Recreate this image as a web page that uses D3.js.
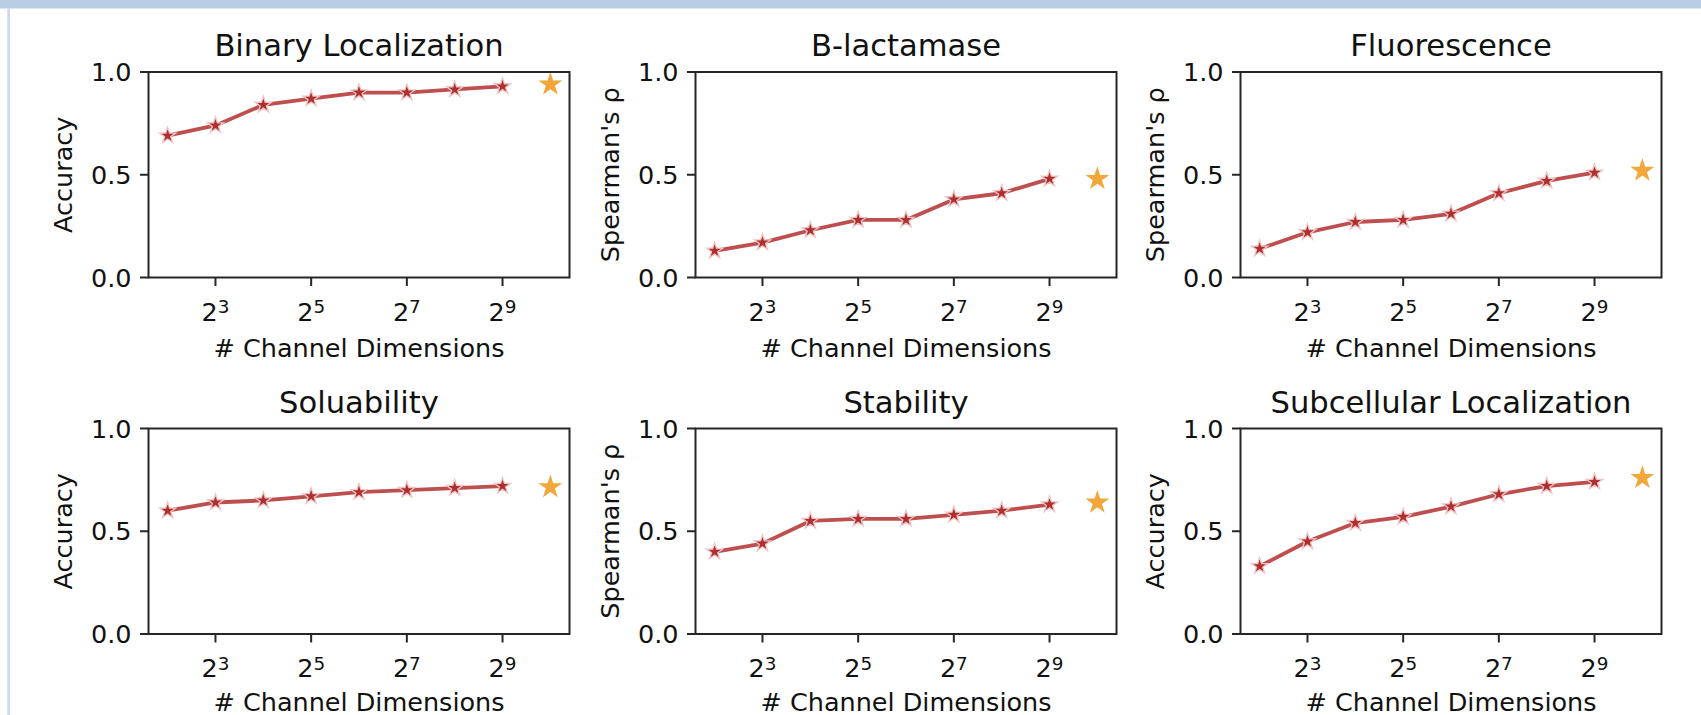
<!DOCTYPE html>
<html>
<head>
<meta charset="utf-8">
<script src="https://cdn.jsdelivr.net/npm/d3@7"></script>
<style>
  html, body { margin: 0; padding: 0; background: #fff; }
  svg { display: block; }
  text { font-family: "DejaVu Sans", sans-serif; fill: #111; }
</style>
</head>
<body>
<svg id="chart" width="1701" height="715"></svg>
<script>
// ---------- data ----------
const dims = [4, 8, 16, 32, 64, 128, 256, 512];
const refDim = 1024;
const tickDims = [8, 32, 128, 512];
const titles = ["Binary Localization", "B-lactamase", "Fluorescence",
                "Soluability", "Stability", "Subcellular Localization"];
const yLabels = ["Accuracy", "Spearman's \u03c1", "Spearman's \u03c1",
                 "Accuracy", "Spearman's \u03c1", "Accuracy"];
const binaryLoc   = [0.69, 0.74, 0.84, 0.87, 0.90, 0.90, 0.915, 0.93];
const bLactamase  = [0.13, 0.17, 0.23, 0.28, 0.28, 0.38, 0.41, 0.48];
const fluorescence= [0.14, 0.22, 0.27, 0.28, 0.31, 0.41, 0.47, 0.51];
const solubility  = [0.60, 0.64, 0.65, 0.67, 0.69, 0.70, 0.71, 0.72];
const stability   = [0.40, 0.44, 0.55, 0.56, 0.56, 0.58, 0.60, 0.63];
const subcellular = [0.33, 0.45, 0.54, 0.57, 0.62, 0.68, 0.72, 0.74];
const refValues   = [0.94, 0.48, 0.52, 0.715, 0.64, 0.76];
const yTicks = [0.0, 0.5, 1.0];

const series = [binaryLoc, bLactamase, fluorescence, solubility, stability, subcellular];

// ---------- layout ----------
const svg = d3.select("#chart");
const W = 1701, H = 715;

// viewer frame decoration
svg.append("rect").attr("x", 0).attr("y", 0).attr("width", W).attr("height", 8.5).attr("fill", "#b9cde5");
svg.append("rect").attr("x", 7.3).attr("y", 8.5).attr("width", 2.7).attr("height", H).attr("fill", "#c8daf6");

const lefts = [148.5, 695.5, 1240.5];
const tops = [72, 428.5];
const pw = 421, ph = 205.5;
const tickFs = 25.5, titleFs = 30.6;

const lineColor = "#bf4e4e";
const markColor = "#ad2f2f";
const refColor = "#f2a73a";

series.forEach((vals, i) => {
  const col = i % 3, row = Math.floor(i / 3);
  const L = lefts[col], T = tops[row];
  const g = svg.append("g").attr("transform", `translate(${L},${T})`);

  const x = d3.scaleLog().base(2).domain([Math.pow(2, 1.6), Math.pow(2, 10.4)]).range([0, pw]);
  const y = d3.scaleLinear().domain([0, 1]).range([ph, 0]);

  // line
  const line = d3.line().x((d, k) => x(dims[k])).y(d => y(d));
  g.append("path").datum(vals).attr("d", line)
    .attr("fill", "none").attr("stroke", lineColor).attr("stroke-width", 3.8)
    .attr("stroke-linejoin", "round").attr("stroke-linecap", "round");

  // markers
  const star = d3.symbol().type(d3.symbolStar);
  g.selectAll("path.mk").data(vals).join("path").attr("class", "mk")
    .attr("d", star.size(82)())
    .attr("transform", (d, k) => `translate(${x(dims[k])},${y(d)})`)
    .attr("fill", markColor).attr("stroke", "#f0c4c4").attr("stroke-width", 1.3);

  // reference star
  g.append("path").attr("d", d3.symbol().type(d3.symbolStar).size(178)())
    .attr("transform", `translate(${x(refDim)},${y(refValues[i])})`)
    .attr("fill", refColor);

  // frame
  g.append("rect").attr("x", 0).attr("y", 0).attr("width", pw).attr("height", ph)
    .attr("fill", "none").attr("stroke", "#262626").attr("stroke-width", 2);

  // y ticks
  yTicks.forEach(t => {
    g.append("line").attr("x1", -8.5).attr("x2", 0).attr("y1", y(t)).attr("y2", y(t))
      .attr("stroke", "#262626").attr("stroke-width", 2);
    g.append("text").attr("x", -17).attr("y", y(t)).attr("dy", "0.36em")
      .attr("text-anchor", "end").attr("font-size", tickFs).text(t.toFixed(1));
  });

  // x ticks
  tickDims.forEach(t => {
    const xx = x(t);
    g.append("line").attr("x1", xx).attr("x2", xx).attr("y1", ph).attr("y2", ph + 8.5)
      .attr("stroke", "#262626").attr("stroke-width", 2);
    const tx = g.append("text").attr("x", xx).attr("y", ph + 43)
      .attr("text-anchor", "middle").attr("font-size", tickFs);
    tx.append("tspan").text("2");
    tx.append("tspan").attr("font-size", tickFs * 0.72).attr("dy", -7.5).text(String(Math.round(Math.log2(t))));
  });

  // x label
  g.append("text").attr("x", pw / 2).attr("y", ph + (row === 1 ? 76.5 : 79.5))
    .attr("text-anchor", "middle").attr("font-size", tickFs).text("# Channel Dimensions");

  // y label
  g.append("text").attr("transform", `translate(-76.5,${ph / 2}) rotate(-90)`)
    .attr("text-anchor", "middle").attr("font-size", tickFs).text(yLabels[i]);

  // title
  g.append("text").attr("x", pw / 2).attr("y", -16)
    .attr("text-anchor", "middle").attr("font-size", titleFs).text(titles[i]);
});
</script>
</body>
</html>
